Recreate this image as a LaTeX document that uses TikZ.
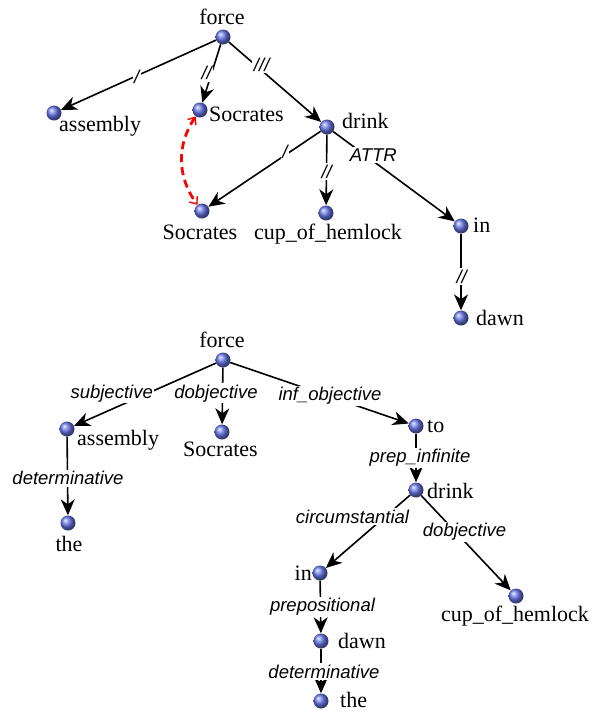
\documentclass[tikz,border=0pt]{standalone}
\usepackage{fontspec}
\setmainfont{Liberation Serif}
\setsansfont{Liberation Sans}
\usetikzlibrary{arrows.meta}
\definecolor{ballblue}{RGB}{105,120,235}
\begin{document}
\begin{tikzpicture}[x=1pt,y=-1pt,
  ball/.style={circle, inner sep=0pt, minimum size=15pt, shading=ball, ball color=ballblue},
  word/.style={font=\fontsize{22}{22}\selectfont, inner sep=0pt},
  rel/.style={font=\sffamily\itshape\fontsize{18.5}{18.5}\selectfont, fill=white, inner sep=1.5pt},
  dep/.style={line width=1.6pt, -{Stealth[length=16pt,width=14pt,inset=5pt]}},
  coref/.style={red, line width=2.8pt, dash pattern=on 8pt off 5pt,
    {Straight Barb[length=6pt,width=10pt,line width=1.4pt]}-{Straight Barb[length=6pt,width=10pt,line width=1.4pt]}},
]
\useasboundingbox (0,0) rectangle (597,713);

% ---------- upper tree ----------
\node[ball] (f1) at (223,37) {};
\node[ball] (as1) at (54,113) {};
\node[ball] (so1) at (200,110) {};
\node[ball] (dr1) at (327,127) {};
\node[ball] (so2) at (202,211) {};
\node[ball] (cu1) at (326,213) {};
\node[ball] (in1) at (461,226) {};
\node[ball] (da1) at (461,318) {};

\node[word] (tf1) at (222,17) {force};
\node[word, anchor=west] (tas1) at (59,126) {assembly};
\node[word, anchor=west] (tso1) at (209,114) {Socrates};
\node[word, anchor=west] (tdr1) at (342,121) {drink};
\node[word] (tso2) at (200,232) {Socrates};
\node[word] (tcu1) at (328,234) {cup\_of\_hemlock};
\node[word, anchor=west] (tin1) at (473,225) {in};
\node[word, anchor=west] (tda1) at (476,318) {dawn};

\draw[dep] (f1) -- (as1);
\draw[dep] (f1) -- (so1);
\draw[dep] (f1) -- (dr1);
\draw[dep] (dr1) -- (so2);
\draw[dep] (dr1) -- (cu1);
\draw[dep] (dr1) -- (in1);
\draw[dep] (in1) -- (da1);
\draw[coref] (so1) to[bend right=35] (so2);

\node[rel] (r1) at (136.7,77.3) {/};
\node[rel] (r2) at (206.7,73.3) {//};
\node[rel] (r3) at (261.7,65) {///};
\node[rel] (r4) at (285,151.7) {/};
\node[rel] (r5) at (326.7,171.7) {//};
\node[rel] (r6) at (373.3,155) {ATTR};
\node[rel] (r7) at (461.7,276.7) {//};

% ---------- lower tree ----------
\node[ball] (f2) at (223,360) {};
\node[ball] (as2) at (67,429) {};
\node[ball] (so3) at (222,432) {};
\node[ball] (to2) at (416,426) {};
\node[ball] (th2) at (68,523) {};
\node[ball] (dr2) at (416,490) {};
\node[ball] (in2) at (320,573) {};
\node[ball] (cu2) at (516,596) {};
\node[ball] (da2) at (321,641) {};
\node[ball] (th3) at (321,701) {};

\node[word] (tf2) at (222,340) {force};
\node[word, anchor=west] (tas2) at (77,440) {assembly};
\node[word] (tso3) at (220.5,449) {Socrates};
\node[word, anchor=west] (tto2) at (427,426) {to};
\node[word] (tth2) at (69,544) {the};
\node[word, anchor=west] (tdr2) at (427,491) {drink};
\node[word, anchor=east] (tin2) at (312,573) {in};
\node[word] (tcu2) at (515,616) {cup\_of\_hemlock};
\node[word, anchor=west] (tda2) at (338,641) {dawn};
\node[word, anchor=west] (tth3) at (340,700) {the};

\draw[dep] (f2) -- (as2);
\draw[dep] (f2) -- (so3);
\draw[dep] (f2) -- (to2);
\draw[dep] (as2) -- (th2);
\draw[dep] (to2) -- (dr2);
\draw[dep] (dr2) -- (in2);
\draw[dep] (dr2) -- (cu2);
\draw[dep] (in2) -- (da2);
\draw[dep] (da2) -- (th3);

\node[rel] (l1) at (111.7,393.3) {subjective};
\node[rel] (l2) at (216,393.3) {dobjective};
\node[rel] (l3) at (330,396) {inf\_objective};
\node[rel] (l4) at (68,478.3) {determinative};
\node[rel] (l5) at (420,458) {prep\_infinite};
\node[rel] (l6) at (352.5,516.7) {circumstantial};
\node[rel] (l7) at (464.6,531.7) {dobjective};
\node[rel] (l8) at (322.5,606.7) {prepositional};
\node[rel] (l9) at (324,671.7) {determinative};
\end{tikzpicture}
\end{document}
